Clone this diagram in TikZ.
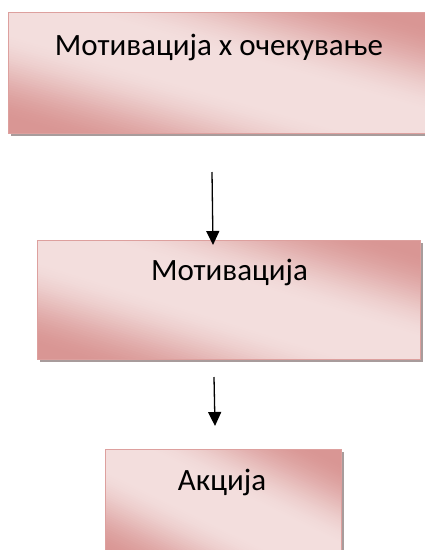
\documentclass[tikz,border=0pt]{standalone}
\usepackage{fontspec}
\setmainfont{Carlito}
\usetikzlibrary{arrows.meta,shadows,calc}
\definecolor{pdark}{RGB}{217,150,148}
\definecolor{pwhite}{RGB}{243,222,221}
\definecolor{pborder}{RGB}{221,160,158}
\definecolor{shadowgray}{RGB}{168,156,156}
\tikzset{
  box/.style={draw=pborder, line width=1pt, fill=pwhite,
    inner sep=0pt, outer sep=0pt,
    drop shadow={shadow xshift=2.5pt, shadow yshift=-3pt, fill=shadowgray, opacity=1},
    path picture={
      \coordinate (gbl) at (path picture bounding box.south west);
      \coordinate (gtr) at (path picture bounding box.north east);
      \coordinate (gtl) at (path picture bounding box.north west);
      \coordinate (gbr) at (path picture bounding box.south east);
      \foreach \i in {0,...,99}{
        \pgfmathsetmacro\ta{\i/100}
        \pgfmathsetmacro\sv{min(\ta+1/200,1-\ta-1/200)}
        \pgfmathsetmacro\xv{max(0,min(1,(0.42-\sv)/0.37))}
        \pgfmathsetmacro\dk{100*\xv*\xv*(3-2*\xv)}
        \fill[pdark!\dk!pwhite]
          ($(gbl)!\ta!(gtr) + (gbr) - (gtl)$) --
          ($(gbl)!\ta!(gtr) - (gbr) + (gtl)$) --
          ($(gbl)!2!(gtr) - (gbr) + (gtl)$) --
          ($(gbl)!2!(gtr) + (gbr) - (gtl)$) -- cycle;
      }
    }},
  lbl/.style={font=\fontsize{31}{37}\selectfont, anchor=base, inner sep=0pt},
  arr/.style={line width=1.3pt, -{Triangle[width=13pt,length=14pt]}}
}
\begin{document}
\begin{tikzpicture}[x=1pt,y=-1pt]
\useasboundingbox (0,0) rectangle (425,550);
\clip (0,0) rectangle (425,550);
\node[box, minimum width=420pt, minimum height=121pt] (b1) at (218,72.5) {};
\node[box, minimum width=383pt, minimum height=119pt] (b2) at (228.5,299.5) {};
\node[box, minimum width=236pt, minimum height=116pt] (b3) at (223,507) {};
\node[lbl] (t1) at (219,55) {Мотивација х очекување};
\node[lbl] (t2) at (229.5,280) {Мотивација};
\node[lbl] (t3) at (222,490) {Акција};
\coordinate (a1s) at (212,172);
\coordinate (a1e) at (213,245);
\coordinate (a2s) at (214,377);
\coordinate (a2e) at (215,426);
\draw[arr] (a1s) -- (a1e);
\draw[arr] (a2s) -- (a2e);
\end{tikzpicture}
\end{document}
